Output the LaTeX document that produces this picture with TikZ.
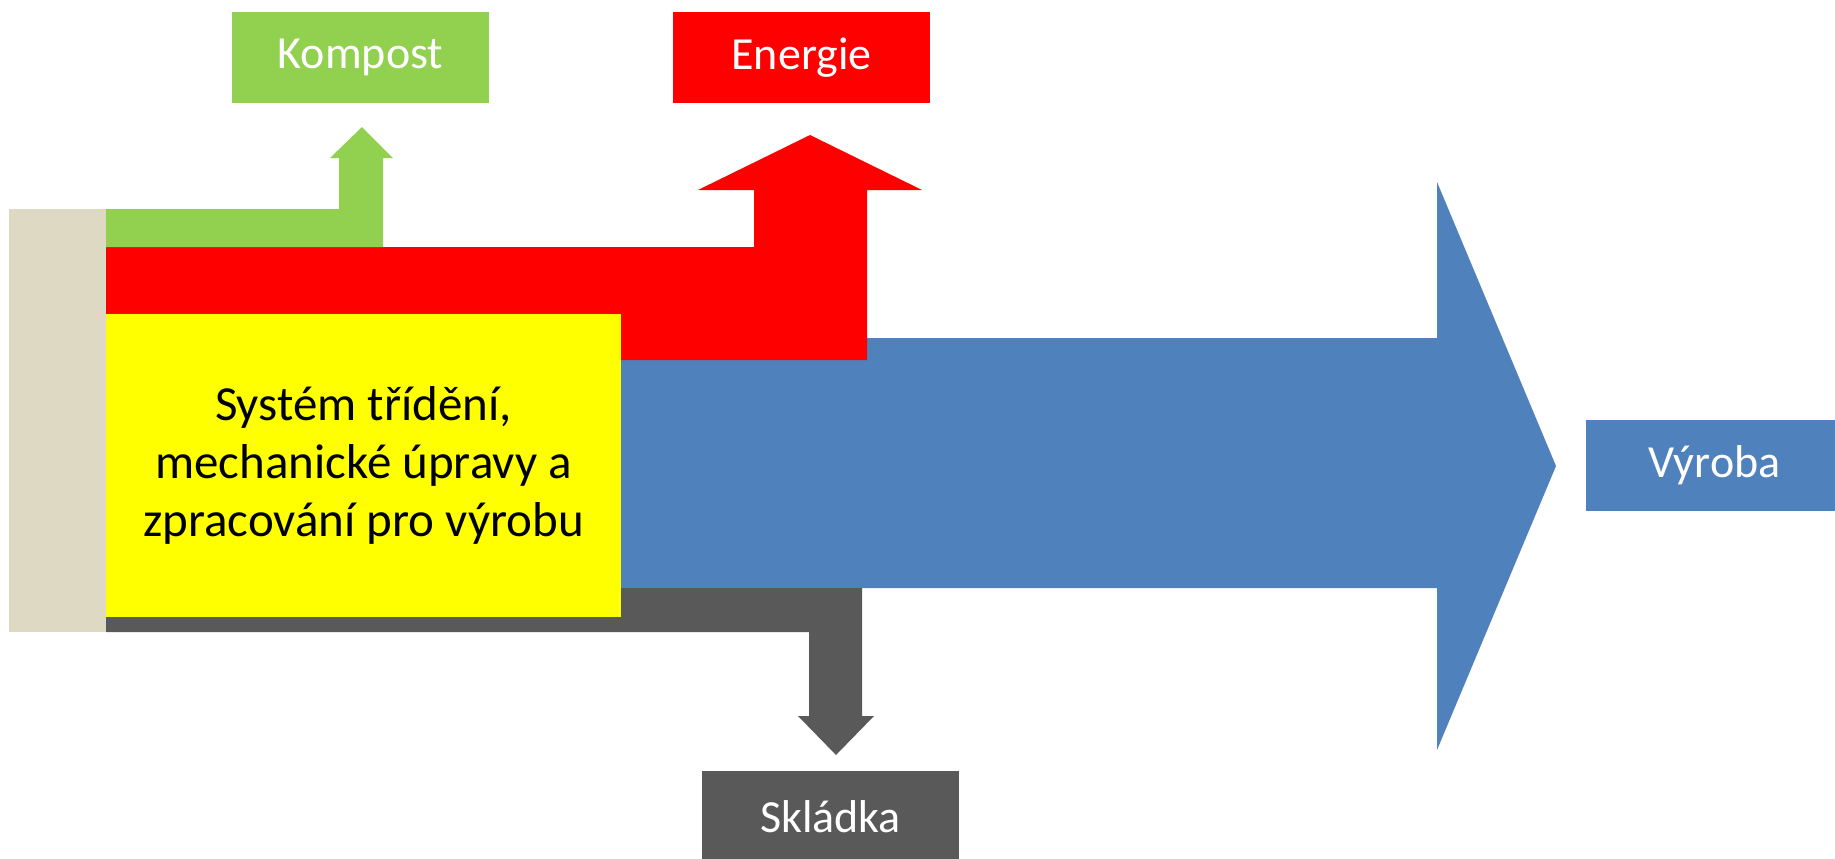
\documentclass[tikz,border=0pt]{standalone}
\usepackage{fontspec}
\setmainfont{Carlito}
\usetikzlibrary{positioning}
\definecolor{kompostgreen}{HTML}{92D050}
\definecolor{energyred}{HTML}{FF0000}
\definecolor{systemyellow}{HTML}{FFFF00}
\definecolor{productblue}{HTML}{4F81BD}
\definecolor{landfillgray}{HTML}{595959}
\definecolor{inputtan}{HTML}{DDD9C3}

\begin{document}
\begin{tikzpicture}[x=0.5pt, y=-0.5pt,
	outbox/.style={fill=#1, text=white, minimum width=128.5pt, minimum height=45.5pt, inner sep=0pt, font=\fontsize{23}{27}\selectfont}]
		\useasboundingbox (0,0) rectangle (1835,858);

		% flows
		\fill[productblue] (560,338) -- (1437,338) -- (1437,182) -- (1556,466) -- (1437,750) -- (1437,588) -- (560,588) -- cycle;
		\fill[energyred] (106,247) -- (754,247) -- (754,190) -- (698,190) -- (810,135) -- (922,190) -- (867,190) -- (867,360) -- (106,360) -- cycle;
		\fill[landfillgray] (106,588) -- (862,588) -- (862,716) -- (874,716) -- (836,755) -- (798,716) -- (809,716) -- (809,632) -- (106,632) -- cycle;
		\fill[kompostgreen] (106,209) -- (339,209) -- (339,158) -- (330,158) -- (362,127) -- (393,158) -- (383,158) -- (383,247) -- (106,247) -- cycle;
		\fill[inputtan] (9,209) rectangle (106,632);

		% boxes
		\node[fill=systemyellow, minimum width=257.5pt, minimum height=151.5pt, inner sep=0pt, align=center, font=\fontsize{24.5}{29}\selectfont] (system) at (363.5,465.5) {Systém třídění,\\mechanické úpravy a\\zpracování pro výrobu};
		\node[outbox=kompostgreen] (kompost) at (360.5,57.5) {Kompost};
		\node[outbox=energyred] (energie) at (801.5,57.5) {Energie};
		\node[outbox=landfillgray] (skladka) at (830.5,816.5) {Skládka};
		\node[outbox=productblue] (vyroba) at (1714.5,465.5) {Výroba};
	\end{tikzpicture}
\end{document}
